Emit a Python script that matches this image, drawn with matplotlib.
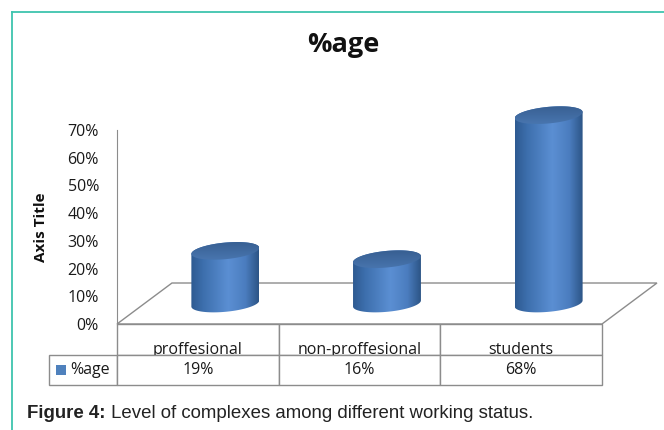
import numpy as np
import matplotlib
matplotlib.use("Agg")
import matplotlib.pyplot as plt
from matplotlib.patches import Polygon, Rectangle, PathPatch
from matplotlib.path import Path
from matplotlib.colors import LinearSegmentedColormap
from matplotlib.table import Table
from matplotlib.lines import Line2D
from matplotlib.ticker import FuncFormatter
from matplotlib.transforms import Affine2D

# data
categories = ["proffesional", "non-proffesional", "students"]
values = [0.19, 0.16, 0.68]
value_labels = ["19%", "16%", "68%"]
series_name = "%age"
yticks = [0.0, 0.1, 0.2, 0.3, 0.4, 0.5, 0.6, 0.7]

plt.rcParams["font.family"] = ["Open Sans", "DejaVu Sans"]

W, H = 664, 430
fig = plt.figure(figsize=(W / 100, H / 100), dpi=100)
fig.patch.set_facecolor("white")

# plot area: x from 117px to 602px, y=0 at 324px, 277 px per 100%
AX_W, AX_H = 485, 224
ax = fig.add_axes([117 / W, (H - 324) / H, AX_W / W, AX_H / H])
ax.set_facecolor("none")

gray = "#8c8c8c"
dx, dy = 0.34, 0.148          # depth of the 3d floor, in data units
cw, ch = 0.21, 0.030          # cylinder half width / ellipse half height
tilt = 0.011

# floor
floor = Polygon([(-0.5, 0), (-0.5 + dx, dy), (2.5 + dx, dy), (2.5, 0)],
                closed=True, facecolor="none", edgecolor=gray, lw=1,
                clip_on=False, zorder=1)
ax.add_patch(floor)

body_cmap = LinearSegmentedColormap.from_list(
    "body", [(0, "#2e5a91"), (0.18, "#3d6fad"), (0.55, "#5b8fd3"),
             (0.8, "#4b7dbf"), (1, "#2c5486")])
cap_cmap = LinearSegmentedColormap.from_list(
    "cap", [(0, "#4a78b2"), (1, "#365c8e")])
grad = np.linspace(0, 1, 256).reshape(1, -1)


def ellipse_pts(cx, yc, t):
    return np.column_stack([cx + cw * np.cos(t), yc + ch * np.sin(t) + tilt * np.cos(t)])


base = dy / 2
for i, v in enumerate(values):
    cx = i + dx / 2
    top = base + v
    lower = ellipse_pts(cx, base, np.linspace(np.pi, 2 * np.pi, 60))
    upper = ellipse_pts(cx, top, np.linspace(0, np.pi, 60))
    verts = np.vstack([lower, upper, lower[:1]])
    body = PathPatch(Path(verts), facecolor="none", edgecolor="none", zorder=3, clip_on=False)
    ax.add_patch(body)
    im = ax.imshow(grad, cmap=body_cmap, aspect="auto", zorder=3,
                   extent=[cx - cw, cx + cw, base - ch - tilt, top + ch + tilt])
    im.set_clip_path(body)

    cap_pts = ellipse_pts(cx, top, np.linspace(0, 2 * np.pi, 120))
    cap = Polygon(cap_pts, closed=True, facecolor="none", edgecolor="none", zorder=4)
    ax.add_patch(cap)
    imc = ax.imshow(np.linspace(0, 1, 64).reshape(-1, 1), cmap=cap_cmap, aspect="auto",
                    zorder=4, origin="lower",
                    extent=[cx - cw, cx + cw, top - ch - tilt, top + ch + tilt])
    imc.set_clip_path(cap)

ax.set_xlim(-0.5, 2.5)
ax.set_ylim(0, AX_H / 277)

for s in ["top", "right", "bottom"]:
    ax.spines[s].set_visible(False)
ax.spines["left"].set_bounds(0, 0.7)
ax.spines["left"].set_color(gray)
ax.set_yticks(yticks)
ax.yaxis.set_major_formatter(FuncFormatter(lambda v, p: f"{v:.0%}"))
ax.tick_params(axis="y", length=0, pad=13, labelsize=11.5, labelcolor="#1a1a1a")
ax.set_xticks([])

# data table under the floor (sizes in axes fractions)
col_w = 1 / 3
lab_w = 68 / AX_W
row_h = 30.5 / AX_H
tab = Table(ax, bbox=[0, -2 * row_h, 1, 2 * row_h])
for j, name in enumerate(categories):
    c = tab.add_cell(0, j, width=col_w, height=row_h, text=name, loc="center")
    c.get_text().set_va("top")
    c.get_text().set_transform(Affine2D().translate(0, -3))
tab.add_cell(1, -1, width=lab_w, height=row_h, text=series_name, loc="right")
for j, lab in enumerate(value_labels):
    tab.add_cell(1, j, width=col_w, height=row_h, text=lab, loc="center")
tab.auto_set_font_size(False)
tab.set_fontsize(11.5)
for cell in tab.get_celld().values():
    cell.set_edgecolor(gray)
    cell.get_text().set_color("#1a1a1a")
ax.add_table(tab)

# legend key in the table
ax.add_patch(Rectangle((-61 / AX_W, -51 / AX_H), 10 / AX_W, 10 / AX_H,
                       transform=ax.transAxes, facecolor="#4f81bd",
                       edgecolor="none", clip_on=False))

fig.text(343 / W, 1 - 52 / H, "%age", ha="center", va="baseline",
         fontsize=19.5, fontweight="bold", color="#111111")
fig.text(41 / W, 1 - 227 / H, "Axis Title", rotation=90, ha="center", va="center",
         fontsize=11, fontweight="bold", color="#111111")

# caption
t1 = fig.text(27 / W, 1 - 422 / H, "Figure 4:", family="Liberation Sans",
              fontweight="bold", fontsize=13.4, color="#222222", va="bottom")
ax.annotate(" Level of complexes among different working status.", xy=(1, 0),
            xycoords=t1, va="bottom", ha="left", family="Liberation Sans",
            fontsize=13.4, color="#222222", annotation_clip=False)

# teal frame
teal = "#3ec4ae"
fig.add_artist(Line2D([12 / W, 12 / W], [0, 1 - 12 / H], transform=fig.transFigure,
                      color=teal, lw=1.3))
fig.add_artist(Line2D([12 / W, 1], [1 - 12 / H, 1 - 12 / H], transform=fig.transFigure,
                      color=teal, lw=1.3))

fig.savefig("out.png", dpi=100)
